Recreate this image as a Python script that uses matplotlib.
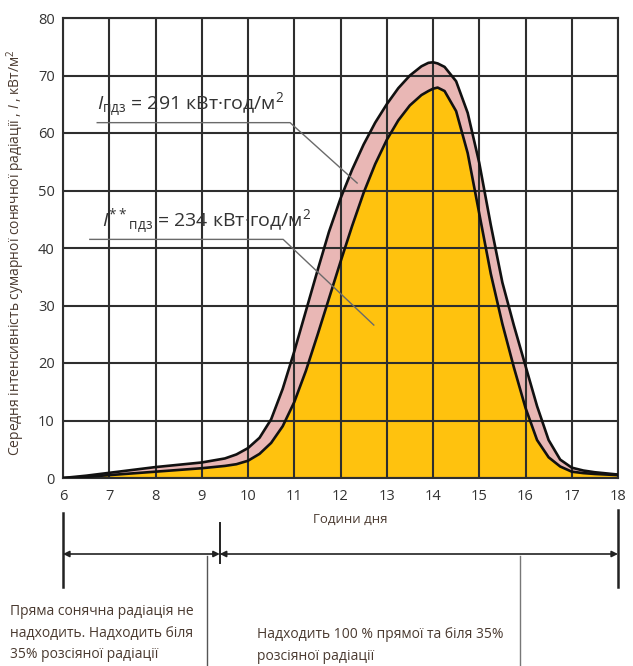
import matplotlib
matplotlib.use("Agg")
import matplotlib.pyplot as plt
from matplotlib import font_manager

# ---------------- data ----------------
hours = [6.0, 6.5, 7.0, 7.5, 8.0, 8.5, 9.0, 9.5, 9.75, 10.0, 10.25, 10.5, 10.75,
         11.0, 11.25, 11.5, 11.75, 12.0, 12.25, 12.5, 12.75, 13.0, 13.25,
         13.5, 13.75, 13.9, 14.0, 14.1, 14.25, 14.5, 14.75, 15.0, 15.25, 15.5, 15.75,
         16.0, 16.25, 16.5, 16.75, 17.0, 17.25, 17.5, 18.0]

total_I = [0.0, 0.4, 0.9, 1.4, 1.9, 2.3, 2.7, 3.4, 4.1, 5.2, 7.0, 10.2, 15.5,
           22.0, 29.0, 36.0, 42.8, 48.6, 53.6, 58.0, 61.8, 65.0, 67.8,
           70.0, 71.6, 72.2, 72.3, 72.1, 71.5, 69.0, 63.5, 54.8, 44.0, 34.0, 26.5,
           19.5, 12.5, 6.6, 3.2, 1.8, 1.3, 1.0, 0.6]

direct_I = [0.0, 0.2, 0.5, 0.8, 1.1, 1.4, 1.7, 2.1, 2.4, 3.0, 4.2, 6.1, 9.0,
            13.2, 18.6, 24.8, 31.2, 37.6, 43.8, 49.6, 54.6, 58.8, 62.2,
            64.8, 66.6, 67.3, 67.7, 67.9, 67.3, 63.8, 56.5, 46.0, 35.5, 26.8, 19.2,
            12.2, 6.6, 3.6, 2.0, 1.1, 0.85, 0.7, 0.5]

x_ticks = [6, 7, 8, 9, 10, 11, 12, 13, 14, 15, 16, 17, 18]
y_ticks = [0, 10, 20, 30, 40, 50, 60, 70, 80]

label_total = "$I_{\\rm пдз}$ = 291 кВт·год/м$^2$"
label_direct = "$I^{**}{}_{\\rm пдз}$ = 234 кВт·год/м$^2$"
xlabel = "Години дня"
ylabel = "Середня інтенсивність сумарної сонячної радіації , $I$ , кВт/м$^2$"
period_split = 9.39
left_note = "Пряма сонячна радіація не\nнадходить. Надходить біля\n35% розсіяної радіації"
right_note = "Надходить 100 % прямої та біля 35%\nрозсіяної радіації"

# ---------------- fonts ----------------
avail = {f.name for f in font_manager.fontManager.ttflist}
fam = [f for f in ["Liberation Sans Narrow", "Open Sans", "DejaVu Sans"] if f in avail]
plt.rcParams['font.family'] = fam
plt.rcParams['mathtext.fontset'] = 'custom'
plt.rcParams['mathtext.rm'] = fam[0]
plt.rcParams['mathtext.it'] = fam[0] + ':italic'
plt.rcParams['mathtext.bf'] = fam[0] + ':bold'

TXT = '#4a3a30'
GRID = '#2e2e2e'
PINK = '#e9b7b5'
YELLOW = '#ffc20e'

fig = plt.figure(figsize=(6.33, 6.66), dpi=100)
ax = fig.add_axes([63 / 633, 1 - 478 / 666, 555 / 633, 460 / 666])

ax.fill_between(hours, 0, direct_I, color=YELLOW, lw=0, zorder=1)
ax.fill_between(hours, direct_I, total_I, color=PINK, lw=0, zorder=1)

ax.set_xlim(6, 18)
ax.set_ylim(0, 80)
ax.set_xticks(x_ticks)
ax.set_yticks(y_ticks)
ax.grid(True, color=GRID, lw=1.5, zorder=2)
ax.set_axisbelow(False)
for s in ax.spines.values():
    s.set_color(GRID)
    s.set_linewidth(1.5)
ax.tick_params(length=0, labelsize=10.5, colors='#333333', pad=6)
ax.tick_params(axis='x', pad=8)

ax.plot(hours, total_I, color='#111111', lw=1.9, zorder=4, solid_joinstyle='round')
ax.plot(hours, direct_I, color='#111111', lw=1.9, zorder=4, solid_joinstyle='round')

# annotations with leader lines
ax.plot([6.74, 10.91, 12.36], [61.8, 61.8, 51.3], color='#6a6a6a', lw=1.0, zorder=5)
ax.text(6.74, 62.4, label_total, fontsize=14, color='#333333', ha='left', va='bottom', zorder=6)
ax.plot([6.58, 10.76, 12.72], [41.5, 41.5, 26.6], color='#6a6a6a', lw=1.0, zorder=5)
ax.text(6.84, 42.1, label_direct, fontsize=14, color='#333333', ha='left', va='bottom', zorder=6)

ax.set_xlabel(xlabel, fontsize=9.5, color=TXT)
ax.xaxis.set_label_coords((350 - 63) / 555, -0.076)
ax.set_ylabel(ylabel, fontsize=10, color=TXT)
ax.yaxis.set_label_coords(-0.065, 0.49)

# bottom period diagram
tr = ax.get_xaxis_transform()
def ay(py):
    return (478 - py) / 460

ax.plot([6, 6], [ay(513), ay(587)], transform=tr, clip_on=False, color='#222222', lw=1.8)
ax.plot([18, 18], [ay(510), ay(587)], transform=tr, clip_on=False, color='#222222', lw=1.8)
ax.plot([period_split, period_split], [ay(523), ay(563)], transform=tr, clip_on=False,
        color='#222222', lw=1.4)
arrow = dict(arrowstyle='<|-|>', mutation_scale=9, lw=1.2, color='#222222', shrinkA=0, shrinkB=0)
ax.annotate('', xy=(6, ay(554)), xytext=(period_split, ay(554)), xycoords=tr, textcoords=tr,
            arrowprops=arrow, annotation_clip=False)
ax.annotate('', xy=(period_split, ay(554)), xytext=(18, ay(554)), xycoords=tr, textcoords=tr,
            arrowprops=arrow, annotation_clip=False)
ax.plot([9.11, 9.11], [ay(556), ay(700)], transform=tr, clip_on=False, color='#555555', lw=1.0)
ax.plot([15.88, 15.88], [ay(556), ay(700)], transform=tr, clip_on=False, color='#777777', lw=1.0)

ax.text(4.85, ay(604), left_note, transform=tr, ha='left', va='top', fontsize=10,
        color=TXT, linespacing=1.6)
ax.text(10.19, ay(627), right_note, transform=tr, ha='left', va='top', fontsize=10,
        color=TXT, linespacing=1.6)

fig.savefig('out.png', dpi=100)
